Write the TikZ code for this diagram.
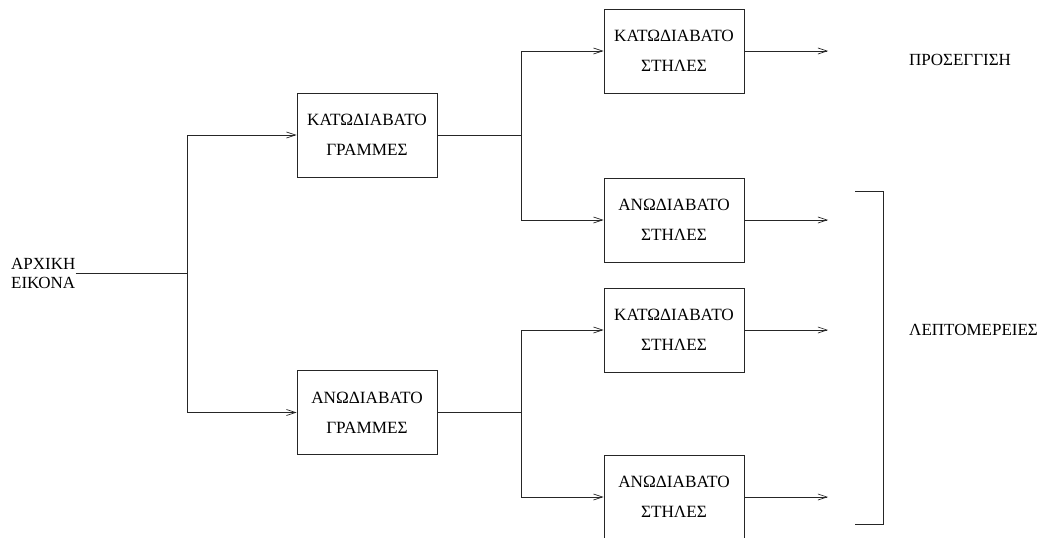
\documentclass[tikz,border=0pt]{standalone}
\usepackage{fontspec}
\setmainfont{Liberation Serif}
\usetikzlibrary{arrows.meta}
\begin{document}
\begin{tikzpicture}[x=1pt,y=-1pt,
  line/.style={draw=black!85, line width=0.8pt},
  arr/.style={line, -{Straight Barb[length=9pt,width=6pt,line width=0.7pt]}},
  box/.style={line, rectangle, minimum width=140pt, minimum height=84pt,
    inner sep=0pt, align=center, font=\fontsize{17.2}{30}\selectfont},
  lbl/.style={inner sep=0pt, align=left, font=\fontsize{17}{19}\selectfont}]
\useasboundingbox (0,0) rectangle (1047,538);

% input label
\node[lbl, anchor=west] (in) at (11,273) {ΑΡΧΙΚΗ\\ΕΙΚΟΝΑ};

% row filters
\node[box] (g1) at (367,135) {ΚΑΤΩΔΙΑΒΑΤΟ\\ΓΡΑΜΜΕΣ};
\node[box] (g2) at (367,412.5) {ΑΝΩΔΙΑΒΑΤΟ\\ΓΡΑΜΜΕΣ};

% column filters
\node[box] (s1) at (674,51) {ΚΑΤΩΔΙΑΒΑΤΟ\\ΣΤΗΛΕΣ};
\node[box] (s2) at (674,220) {ΑΝΩΔΙΑΒΑΤΟ\\ΣΤΗΛΕΣ};
\node[box] (s3) at (674,330) {ΚΑΤΩΔΙΑΒΑΤΟ\\ΣΤΗΛΕΣ};
\node[box] (s4) at (674,497) {ΑΝΩΔΙΑΒΑΤΟ\\ΣΤΗΛΕΣ};

% output labels
\node[lbl, anchor=west] (approx) at (909,60) {ΠΡΟΣΕΓΓΙΣΗ};
\node[lbl, anchor=west] (detail) at (909,330) {ΛΕΠΤΟΜΕΡΕΙΕΣ};

% branch points and output ends
\coordinate (j0) at (187,273);
\coordinate (j1) at (521,135);
\coordinate (j2) at (521,412.5);
\coordinate (out) at (828,0);

% input split
\draw[line] (in.east) -- (j0);
\draw[arr] (j0) |- (g1.west);
\draw[arr] (j0) |- (g2.west);

% second split
\draw[line] (g1.east) -- (j1);
\draw[arr] (j1) |- (s1.west);
\draw[arr] (j1) |- (s2.west);
\draw[line] (g2.east) -- (j2);
\draw[arr] (j2) |- (s3.west);
\draw[arr] (j2) |- (s4.west);

% outputs
\draw[arr] (s1.east) -- (s1.east -| out);
\draw[arr] (s2.east) -- (s2.east -| out);
\draw[arr] (s3.east) -- (s3.east -| out);
\draw[arr] (s4.east) -- (s4.east -| out);

% bracket grouping the detail outputs
\coordinate (b1) at (855,191);
\coordinate (b2) at (883,191);
\coordinate (b3) at (883,524);
\coordinate (b4) at (855,524);
\draw[line] (b1) -- (b2) -- (b3) -- (b4);
\end{tikzpicture}
\end{document}
